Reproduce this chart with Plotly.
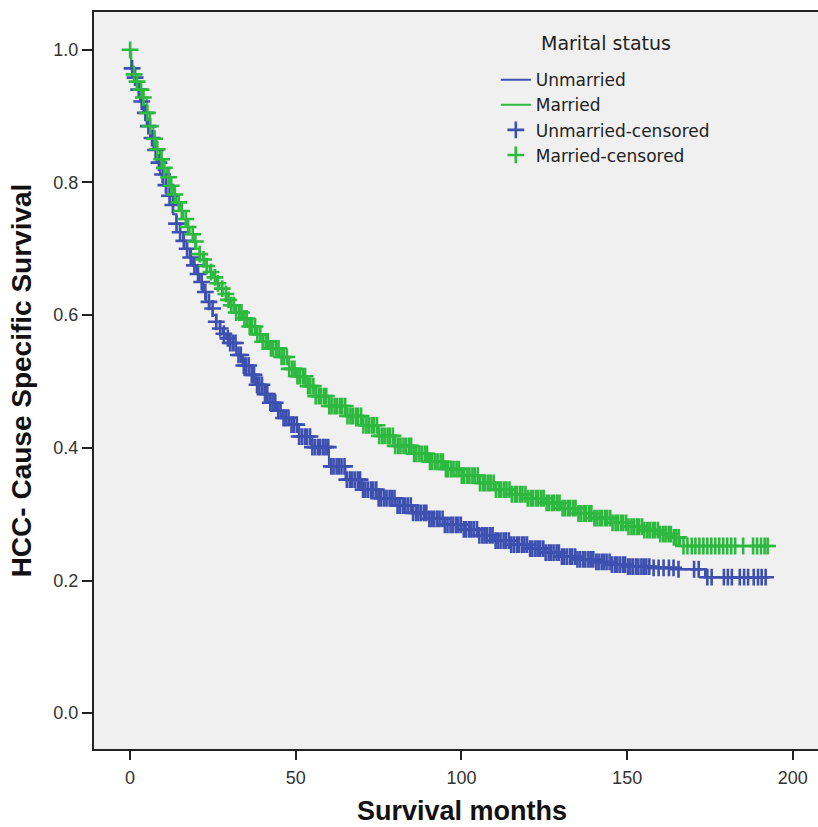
import numpy as np
import plotly.graph_objects as go

# ---- Kaplan-Meier estimates ----
married_t = [0, 0.3, 1, 2, 3, 4, 5, 6, 7, 8, 9, 10, 11, 12, 13, 14, 15, 16, 17, 18, 19, 20,
             21, 22, 23, 24, 25, 26, 27, 28, 29, 30, 32, 34, 36, 38, 40, 42, 45, 48, 50, 53,
             56, 60, 65, 70, 75, 80, 85, 90, 95, 100, 105, 110, 115, 120, 125, 130, 135, 140,
             145, 150, 155, 160, 164, 166]
married_s = [1.000, 0.975, 0.963, 0.952, 0.940, 0.928, 0.905, 0.885, 0.866, 0.850, 0.835, 0.822,
             0.808, 0.795, 0.782, 0.770, 0.757, 0.745, 0.733, 0.722, 0.711, 0.700, 0.692, 0.684,
             0.674, 0.665, 0.657, 0.648, 0.640, 0.632, 0.623, 0.615, 0.604, 0.595, 0.583, 0.571,
             0.560, 0.550, 0.537, 0.519, 0.508, 0.493, 0.478, 0.463, 0.448, 0.434, 0.418, 0.403,
             0.391, 0.379, 0.368, 0.358, 0.347, 0.337, 0.330, 0.324, 0.317, 0.309, 0.301, 0.294,
             0.287, 0.281, 0.276, 0.270, 0.265, 0.252]
married_end = 192.5

unmarried_t = [0, 0.3, 1, 2, 3, 4, 5, 6, 7, 8, 9, 10, 11, 12, 13, 14, 15, 16, 17, 18, 19, 20,
               21, 22, 23, 24, 25, 26, 27, 28, 29, 30, 32, 34, 36, 38, 40, 42, 44, 46, 48, 51,
               55, 60, 65, 70, 75, 80, 85, 90, 95, 100, 105, 110, 115, 120, 125, 130, 135, 140,
               145, 150, 157, 165, 173.5]
unmarried_s = [1.000, 0.972, 0.958, 0.940, 0.922, 0.905, 0.885, 0.867, 0.849, 0.830, 0.812, 0.796,
               0.780, 0.766, 0.752, 0.738, 0.725, 0.712, 0.700, 0.687, 0.675, 0.662, 0.650, 0.635,
               0.620, 0.610, 0.600, 0.590, 0.580, 0.572, 0.565, 0.558, 0.540, 0.524, 0.510, 0.495,
               0.481, 0.468, 0.456, 0.445, 0.435, 0.417, 0.401, 0.372, 0.352, 0.337, 0.324, 0.313,
               0.302, 0.293, 0.284, 0.277, 0.268, 0.260, 0.254, 0.248, 0.242, 0.236, 0.232, 0.228,
               0.224, 0.221, 0.219, 0.217, 0.205]
unmarried_end = 192.5

# ---- censoring times (months) ----
married_cens = [
    0, 1.2, 2.1, 3.3, 4.0, 5.2, 6.1, 7.4, 8.2, 9.5, 10.3, 11.6, 12.4, 13.5, 14.7, 15.6, 16.8,
    17.5, 18.9, 19.7, 21.0, 22.2, 23.1, 24.4, 25.6, 26.5, 27.8, 28.9, 29.7,
    30.5, 31.3, 32.0, 32.9, 33.6, 34.5, 35.2, 36.1, 36.8, 37.7, 38.4, 39.3, 40.0, 40.9, 41.6,
    42.5, 43.2, 44.1, 44.8, 45.7, 46.4, 47.3, 48.0, 48.9, 49.6, 50.5, 51.2, 52.1, 52.8, 53.7,
    54.4, 55.3, 56.0, 56.9, 57.6, 58.5, 59.2, 60.1, 60.8, 61.7, 62.4, 63.3, 64.0, 64.9, 65.6,
    66.5, 67.2, 68.1, 68.8, 69.7, 70.4, 71.3, 72.0, 72.9, 73.6, 74.5, 75.2, 76.1, 76.8, 77.7,
    78.4, 79.3, 80.0, 80.9, 81.6, 82.5, 83.2, 84.1, 84.8, 85.7, 86.4, 87.3, 88.0, 88.9, 89.6,
    90.5, 91.2, 92.1, 92.8, 93.7, 94.4, 95.3, 96.0, 96.9, 97.6, 98.5, 99.2, 100.1, 100.8, 101.7,
    102.4, 103.3, 104.0, 104.9, 105.6, 106.5, 107.2, 108.1, 108.8, 109.7, 110.4, 111.3, 112.0,
    112.9, 113.6, 114.5, 115.2, 116.1, 116.8, 117.7, 118.4, 119.3, 120.0, 120.9, 121.6, 122.5,
    123.2, 124.1, 124.8, 125.7, 126.4, 127.3, 128.0, 128.9, 129.6, 130.5, 131.2, 132.1, 132.8,
    133.7, 134.4, 135.3, 136.0, 136.9, 137.6, 138.5, 139.2, 140.1, 140.8, 141.7, 142.4, 143.3,
    144.0, 144.9, 145.6, 146.5, 147.2, 148.1, 148.8, 149.7, 150.4, 151.3, 152.0, 152.9, 153.6,
    154.5, 155.2, 156.1, 156.8, 157.7, 158.4, 159.3, 160.0, 160.9, 161.6, 162.5, 163.2, 164.1,
    164.8, 165.6,
    167.0, 168.2, 169.5, 170.6, 171.8, 173.0, 174.2, 175.4, 176.6, 177.8, 179.0, 180.2, 181.4,
    182.6, 185.0, 188.0, 189.2, 190.4, 191.5, 192.4]
unmarried_cens = [
    0.6, 1.5, 2.6, 3.5, 4.6, 5.5, 6.6, 7.7, 8.7, 9.8, 10.8, 11.9, 12.9, 14.0, 15.1, 16.2, 17.2,
    18.3, 19.4, 20.5, 21.6, 22.7, 23.8, 24.9, 26.0, 27.2, 28.3, 29.5,
    30.2, 31.0, 31.8, 32.7, 33.4, 34.3, 35.0, 35.8, 36.7, 37.4, 38.3, 39.0, 39.8, 40.7, 41.4,
    42.3, 43.0, 43.8, 44.7, 45.4, 46.3, 47.0, 47.8, 48.7, 49.4, 50.3, 51.0, 51.8, 52.7, 53.4,
    54.3, 55.0, 55.8, 56.7, 57.4, 58.3, 59.0, 59.8, 60.7, 61.4, 62.3, 63.0, 63.8, 64.7, 65.4,
    66.3, 67.0, 67.8, 68.7, 69.4, 70.3, 71.0, 71.8, 72.7, 73.4, 74.3, 75.0, 75.8, 76.7, 77.4,
    78.3, 79.0, 79.8, 80.7, 81.4, 82.3, 83.0, 83.8, 84.7, 85.4, 86.3, 87.0, 87.8, 88.7, 89.4,
    90.3, 91.0, 91.8, 92.7, 93.4, 94.3, 95.0, 95.8, 96.7, 97.4, 98.3, 99.0, 99.8, 100.7, 101.4,
    102.3, 103.0, 103.8, 104.7, 105.4, 106.3, 107.0, 107.8, 108.7, 109.4, 110.3, 111.0, 111.8,
    112.7, 113.4, 114.3, 115.0, 115.8, 116.7, 117.4, 118.3, 119.0, 119.8, 120.7, 121.4, 122.3,
    123.0, 123.8, 124.7, 125.4, 126.3, 127.0, 127.8, 128.7, 129.4, 130.3, 131.0, 131.8, 132.7,
    133.4, 134.3, 135.0, 135.8, 136.7, 137.4, 138.3, 139.0, 139.8, 140.7, 141.4, 142.3, 143.0,
    143.8, 144.7, 145.4, 146.3, 147.0, 147.8, 148.7, 149.4, 150.3, 151.0, 151.8, 152.7, 153.4,
    154.3, 155.0, 155.8, 156.7,
    158.0, 159.5, 161.0, 162.6, 164.0, 165.5, 170.2, 171.6, 174.2, 175.5, 179.2, 180.4, 181.6,
    184.0, 185.3, 186.5, 188.2, 189.5, 190.6, 191.8]

x_ticks = [0, 50, 100, 150, 200]
y_ticks = [0.0, 0.2, 0.4, 0.6, 0.8, 1.0]

BLUE = "#3D50B0"
GREEN = "#2DB83F"
FONT = "Liberation Sans, Arial, sans-serif"
LEG_FONT = "DejaVu Sans, Verdana, sans-serif"


def step_xy(t, s, end):
    return list(t) + [end], list(s) + [s[-1]]


def censor_y(t, s, c):
    idx = np.searchsorted(np.asarray(t, float), np.asarray(c, float), side="right") - 1
    return np.asarray(s)[idx]


fig = go.Figure()
ux, uy = step_xy(unmarried_t, unmarried_s, unmarried_end)
mx, my = step_xy(married_t, married_s, married_end)
fig.add_trace(go.Scatter(x=ux, y=uy, mode="lines", line=dict(color=BLUE, width=2, shape="hv"),
                         name="Unmarried"))
fig.add_trace(go.Scatter(x=mx, y=my, mode="lines", line=dict(color=GREEN, width=2, shape="hv"),
                         name="Married"))
fig.add_trace(go.Scatter(x=unmarried_cens, y=censor_y(unmarried_t, unmarried_s, unmarried_cens),
                         mode="markers", name="Unmarried-censored",
                         marker=dict(symbol="cross-thin", size=12, color=BLUE,
                                     line=dict(color=BLUE, width=2.6))))
fig.add_trace(go.Scatter(x=married_cens, y=censor_y(married_t, married_s, married_cens),
                         mode="markers", name="Married-censored",
                         marker=dict(symbol="cross-thin", size=12, color=GREEN,
                                     line=dict(color=GREEN, width=2.6))))

tick_font = dict(family=FONT, size=18, color="#333333")
title_font = dict(family=FONT, size=27, color="#111111")

fig.update_layout(
    width=818, height=827,
    margin=dict(l=94, r=0, t=12, b=78),
    paper_bgcolor="white",
    plot_bgcolor="#F0F0F0",
    showlegend=True,
    legend=dict(
        x=0.555, y=0.932, xanchor="left", yanchor="top",
        bgcolor="rgba(0,0,0,0)",
        font=dict(family=LEG_FONT, size=17, color="#222222"),
        tracegroupgap=0, itemwidth=30,
    ),
    annotations=[
        dict(text="Marital status", xref="paper", yref="paper",
             x=0.707, y=0.958, xanchor="center", yanchor="middle", showarrow=False,
             font=dict(family=LEG_FONT, size=19, color="#222222")),
        dict(text="<b>Survival months</b>", xref="paper", yref="paper",
             x=0.508, y=-0.0835, xanchor="center", yanchor="middle", showarrow=False,
             font=title_font),
    ],
    xaxis=dict(
        range=[-10.9, 207.6], tickvals=x_ticks, ticktext=[str(v) for v in x_ticks],
        showgrid=False, zeroline=False, showline=True, linecolor="#222222", linewidth=2,
        mirror=True, ticks="outside", ticklen=9, tickwidth=2, tickcolor="#222222",
        tickfont=tick_font, ticklabelstandoff=2,
    ),
    yaxis=dict(
        range=[-0.054, 1.057], tickvals=y_ticks, ticktext=[f"{v:.1f}" for v in y_ticks],
        showgrid=False, zeroline=False, showline=True, linecolor="#222222", linewidth=2,
        mirror=False, ticks="outside", ticklen=10, tickwidth=2, tickcolor="#222222",
        tickfont=tick_font,
        title=dict(text="<b>HCC- Cause Specific Survival</b>",
                   font=dict(family=FONT, size=28, color="#111111"), standoff=14),
    ),
)

fig.write_html("out.html", config={"displayModeBar": False},
               post_script="document.body.style.margin='0px';"
                           "document.body.style.overflow='hidden';")
